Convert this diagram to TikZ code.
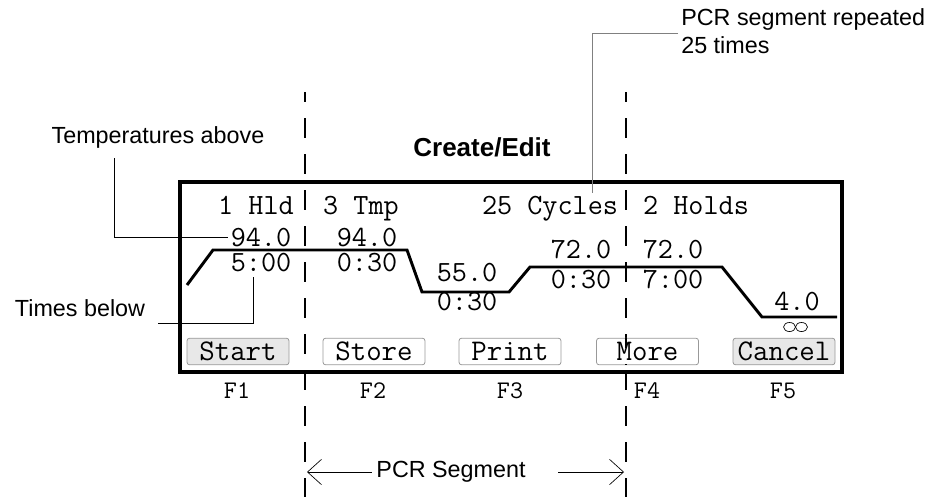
\documentclass[tikz,border=0pt]{standalone}
\usepackage{fontspec}
\setmainfont{Liberation Sans}
\usetikzlibrary{arrows.meta,positioning}

\begin{document}
\begin{tikzpicture}[
    x=0.75pt,y=-0.75pt,
    lcd/.style={font=\ttfamily\fontsize{22}{24}\selectfont,inner sep=0pt,
                text height=13pt,text depth=0pt},
    fkey/.style={font=\ttfamily\fontsize{19}{22}\selectfont,inner sep=0pt},
    btn/.style={draw=gray!80,fill=white,rounded corners=2pt,line width=0.6pt,
                minimum width=76.5pt,minimum height=20pt,inner sep=0pt,
                font=\ttfamily\fontsize{22.5}{24}\selectfont},
    pressed/.style={btn,fill=gray!18},
    note/.style={font=\fontsize{17.5}{21}\selectfont,inner sep=0pt},
    leader/.style={line width=0.6pt},
    seg/.style={line width=1pt,dash pattern=on 15pt off 12pt,dash phase=7.5pt},
    profile/.style={line width=2.2pt,line join=miter},
    span/.style={line width=0.5pt,-{Straight Barb[length=10.5pt,width=19pt]}}
  ]
    \useasboundingbox (0,0) rectangle (937,497);

    % screen frame and segment borders
    \draw[seg] (305,92) -- (305,497);
    \draw[seg] (626,92) -- (626,497);
    \draw[line width=2.3pt] (180,182) rectangle (842,372);
    \node[font=\bfseries\fontsize{19.5}{22}\selectfont] (title) at (482,147) {Create/Edit};

    % step headers
    \node[lcd] (h1) at (256,206) {1 Hld};
    \node[lcd] (h2) at (361,206) {3 Tmp};
    \node[lcd] (h3) at (550,206) {25 Cycles};
    \node[lcd] (h4) at (696,206) {2 Holds};

    % temperature profile
    \draw[profile] (187,285) -- (213,250) -- (407,250) -- (422,292) -- (509,292)
                   -- (530,267) -- (722,267) -- (762,317) -- (837,317);

    % temperatures and times
    \node[lcd] (t1) at (261,237.5) {94.0};
    \node[lcd] (d1) at (261,262.5) {5:00};
    \node[lcd] (t2) at (367,237.5) {94.0};
    \node[lcd] (d2) at (367,262.5) {0:30};
    \node[lcd] (t3) at (467,273) {55.0};
    \node[lcd] (d3) at (467,302) {0:30};
    \node[lcd] (t4) at (581,250) {72.0};
    \node[lcd] (d4) at (581,280) {0:30};
    \node[lcd] (t5) at (673,250) {72.0};
    \node[lcd] (d5) at (673,280) {7:00};
    \node[lcd] (t6) at (797,302) {4.0};
    \draw[line width=0.5pt] (789.5,327) ellipse [x radius=4.5pt,y radius=3.4pt];
    \draw[line width=0.5pt] (801.5,327) ellipse [x radius=4.5pt,y radius=3.4pt];

    % soft keys
    \node[pressed] (start)  at (238,351.5) {Start};
    \node[btn]     (store)  at (374,351.5) {Store};
    \node[btn]     (print)  at (510,351.5) {Print};
    \node[btn]     (more)   at (647.5,351.5) {More};
    \node[pressed] (cancel) at (784,351.5) {Cancel};
    \draw[seg] (626,338) -- (626,365);

    \node[fkey] (f1) at (237,391) {F1};
    \node[fkey] (f2) at (373,391) {F2};
    \node[fkey] (f3) at (510,391) {F3};
    \node[fkey] (f4) at (647,391) {F4};
    \node[fkey] (f5) at (783,391) {F5};

    % callouts
    \node[note] (tempnote) at (158,137) {Temperatures above};
    \coordinate (tempfoot) at (114,158);
    \draw[leader] (tempfoot) |- ([xshift=-2pt]t1.west);

    \node[note] (timenote) at (80,308) {Times below};
    \coordinate (timefoot) at (158,323);
    \draw[leader] (timefoot) -| ([xshift=-6pt,yshift=-4pt]d1.south);

    \node[note,anchor=north west,align=left] (repnote) at (681,8)
        {PCR segment repeated\\25 times};
    \coordinate (repfoot) at (678,33);
    \coordinate (repend) at (592,193);
    \draw[leader,gray] (repfoot) -| (repend);

    \node[note] (segnote) at (451,472) {PCR Segment};
    \coordinate (segL) at (307,472);
    \coordinate (segR0) at (558,472);
    \coordinate (segR) at (624,472);
    \draw[span] ([xshift=-3.5pt]segnote.west) -- (segL);
    \draw[span] (segR0) -- (segR);
  \end{tikzpicture}
\end{document}
